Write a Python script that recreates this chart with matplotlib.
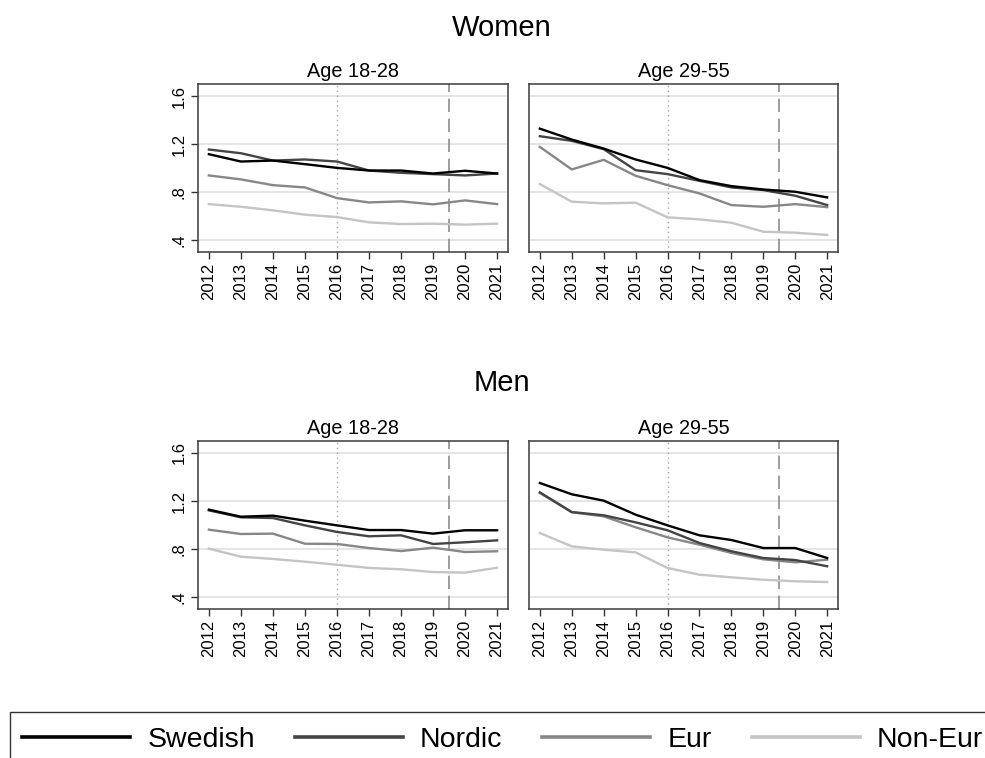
import matplotlib
matplotlib.use("Agg")
import matplotlib.pyplot as plt
from matplotlib.lines import Line2D
from matplotlib.patches import Rectangle

plt.rcParams["font.family"] = ["Liberation Sans", "DejaVu Sans"]

years = list(range(2012, 2022))
groups = ["Swedish", "Nordic", "Eur", "Non-Eur"]
colors = ["#000000", "#444444", "#878787", "#c4c4c4"]

women_18_28 = {
    "Swedish": [1.115, 1.054, 1.062, 1.032, 1.001, 0.979, 0.979, 0.954, 0.977, 0.954],
    "Nordic": [1.154, 1.123, 1.062, 1.071, 1.054, 0.979, 0.960, 0.949, 0.938, 0.954],
    "Eur": [0.938, 0.905, 0.857, 0.838, 0.749, 0.713, 0.722, 0.697, 0.730, 0.699],
    "Non-Eur": [0.699, 0.677, 0.647, 0.611, 0.591, 0.547, 0.533, 0.536, 0.528, 0.536],
}
women_29_55 = {
    "Swedish": [1.328, 1.237, 1.162, 1.071, 1.001, 0.899, 0.849, 0.821, 0.802, 0.755],
    "Nordic": [1.265, 1.226, 1.157, 0.982, 0.949, 0.893, 0.838, 0.816, 0.769, 0.691],
    "Eur": [1.176, 0.988, 1.068, 0.935, 0.857, 0.788, 0.691, 0.677, 0.699, 0.674],
    "Non-Eur": [0.866, 0.719, 0.705, 0.711, 0.589, 0.572, 0.544, 0.469, 0.461, 0.442],
}
men_18_28 = {
    "Swedish": [1.128, 1.069, 1.078, 1.036, 0.997, 0.958, 0.958, 0.928, 0.956, 0.956],
    "Nordic": [1.122, 1.064, 1.058, 0.997, 0.942, 0.906, 0.914, 0.842, 0.856, 0.872],
    "Eur": [0.961, 0.925, 0.928, 0.844, 0.842, 0.808, 0.783, 0.811, 0.775, 0.781],
    "Non-Eur": [0.803, 0.736, 0.717, 0.694, 0.669, 0.642, 0.631, 0.608, 0.603, 0.644],
}
men_29_55 = {
    "Swedish": [1.350, 1.256, 1.203, 1.086, 0.997, 0.914, 0.875, 0.808, 0.808, 0.725],
    "Nordic": [1.272, 1.108, 1.081, 1.022, 0.956, 0.850, 0.781, 0.725, 0.708, 0.656],
    "Eur": [1.267, 1.106, 1.072, 0.981, 0.897, 0.836, 0.767, 0.714, 0.689, 0.711],
    "Non-Eur": [0.933, 0.822, 0.794, 0.772, 0.642, 0.586, 0.564, 0.544, 0.531, 0.525],
}
yticks = [0.4, 0.8, 1.2, 1.6]
ytick_labels = [".4", ".8", "1.2", "1.6"]

W, H = 985, 758
fig = plt.figure(figsize=(W / 100, H / 100), dpi=100, facecolor="white")


def px_axes(x0, y0, x1, y1):
    return fig.add_axes([x0 / W, 1 - y1 / H, (x1 - x0) / W, (y1 - y0) / H])


panels = [
    (198, 84, 508, 252, "Age 18-28", women_18_28, True),
    (529, 84, 838, 252, "Age 29-55", women_29_55, False),
    (198, 441, 508, 609, "Age 18-28", men_18_28, True),
    (529, 441, 838, 609, "Age 29-55", men_29_55, False),
]

for x0, y0, x1, y1, title, data, show_y in panels:
    ax = px_axes(x0, y0, x1, y1)
    for yv in yticks:
        ax.axhline(yv, color="#e3e3e3", lw=1.3, zorder=1)
    ax.axvline(2016, color="#a8a8a8", lw=1.0, ls=(0, (1, 2.5)), zorder=2)
    ax.axvline(2019.5, color="#8c8c8c", lw=1.2, ls=(0, (8, 4)), zorder=2)
    for g, c in reversed(list(zip(groups, colors))):
        ax.plot(years, data[g], color=c, lw=1.7, zorder=3)
    ax.set_xlim(2011.66, 2021.34)
    ax.set_ylim(0.3, 1.7)
    ax.set_xticks(years)
    ax.set_xticklabels([str(y) for y in years], rotation=90, fontsize=12)
    ax.set_yticks(yticks)
    if show_y:
        ax.set_yticklabels(ytick_labels, rotation=90, fontsize=12, va="center")
    else:
        ax.tick_params(axis="y", left=False, labelleft=False)
    ax.tick_params(axis="both", length=5, width=1, color="#333333", pad=3)
    for sp in ax.spines.values():
        sp.set_color("#3a3a3a")
        sp.set_linewidth(1.1)
    ax.set_title(title, fontsize=14.3, pad=5)

fig.text(502 / W, 1 - 28 / H, "Women", ha="center", va="center", fontsize=21)
fig.text(502 / W, 1 - 383 / H, "Men", ha="center", va="center", fontsize=21)

# legend box runs off the right and bottom edge like the original
fig.patches.append(Rectangle((10 / W, -0.05), 1.1, 1 - 712 / H + 0.05, transform=fig.transFigure,
                             fill=False, edgecolor="#333333", lw=1.0, zorder=5))
handles = [Line2D([], [], color=c, lw=2.6) for c in colors]
fig.legend(handles, groups, loc="center left", bbox_to_anchor=(22 / W, 1 - 740 / H),
           ncol=4, fontsize=20.5, handlelength=3.8, handletextpad=0.6,
           columnspacing=1.4, borderpad=0.0, borderaxespad=0.0, frameon=False)

fig.savefig("out.png", dpi=100, facecolor="white")
